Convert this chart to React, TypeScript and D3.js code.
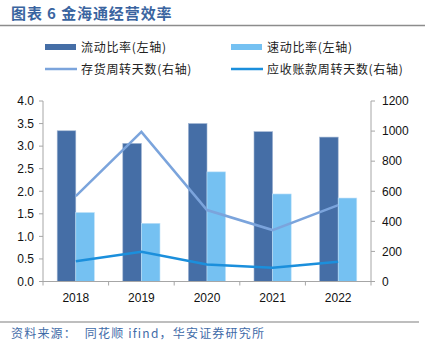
import React, { useEffect, useRef } from "react";
import * as d3 from "d3";

const years = ["2018", "2019", "2020", "2021", "2022"];
const currentRatio = [3.34, 3.06, 3.5, 3.32, 3.2];
const quickRatio = [1.53, 1.29, 2.43, 1.94, 1.85];
const inventoryDays = [568, 995, 475, 342, 508];
const receivableDays = [134, 198, 113, 92, 131];
const leftTicks = [0, 0.5, 1, 1.5, 2, 2.5, 3, 3.5, 4];
const rightTicks = [0, 200, 400, 600, 800, 1000, 1200];

const DARK = "#456ea6";
const LIGHT = "#75c1f2";
const INV = "#7ba4dc";
const REC = "#1b8fdc";
const CJK = "'Noto Sans CJK SC', sans-serif";
const NUM = "'Liberation Sans', Arial, sans-serif";

export default function App() {
  const ref = useRef<SVGSVGElement>(null);

  useEffect(() => {
    const svg = d3.select(ref.current);
    svg.selectAll("*").remove();

    const left = 43, right = 371, top = 101, bottom = 281.5;

    const x = d3.scaleBand().domain(years).range([left, right]);
    const yL = d3.scaleLinear().domain([0, 4]).range([bottom, top]);
    const yR = d3.scaleLinear().domain([0, 1200]).range([bottom, top]);

    // title
    svg.append("text")
      .attr("x", 11).attr("y", 19)
      .attr("font-family", CJK).attr("font-size", 15).attr("font-weight", "bold")
      .attr("letter-spacing", 0.9)
      .attr("fill", "#3a64a0")
      .text("图表 6 金海通经营效率");
    svg.append("line")
      .attr("x1", 0).attr("x2", 425).attr("y1", 25.5).attr("y2", 25.5)
      .attr("stroke", "#8c8c8c").attr("stroke-width", 1.5);

    // legend
    const leg = svg.append("g").attr("font-family", CJK).attr("font-size", 12)
      .attr("letter-spacing", 0.7).attr("fill", "#222");
    const items = [
      { label: "流动比率(左轴)", color: DARK, bar: true, x: 45, y: 47 },
      { label: "速动比率(左轴)", color: LIGHT, bar: true, x: 231, y: 47 },
      { label: "存货周转天数(右轴)", color: INV, bar: false, x: 45, y: 69 },
      { label: "应收账款周转天数(右轴)", color: REC, bar: false, x: 231, y: 69 },
    ];
    items.forEach(it => {
      if (it.bar) {
        leg.append("rect").attr("x", it.x).attr("y", it.y - 3).attr("width", 31).attr("height", 6).attr("fill", it.color);
      } else {
        leg.append("line").attr("x1", it.x).attr("x2", it.x + 32).attr("y1", it.y).attr("y2", it.y)
          .attr("stroke", it.color).attr("stroke-width", 2.5);
      }
      leg.append("text").attr("x", it.x + 36).attr("y", it.y + 4.5).text(it.label);
    });

    // bars
    const bw = 18.6;
    const g = svg.append("g");
    years.forEach((yr, i) => {
      const cx = x(yr)! + x.bandwidth() / 2;
      g.append("rect")
        .attr("x", cx - bw).attr("y", yL(currentRatio[i]))
        .attr("width", bw).attr("height", bottom - yL(currentRatio[i]))
        .attr("fill", DARK).attr("stroke", "#9fb4d2").attr("stroke-width", 0.6);
      g.append("rect")
        .attr("x", cx).attr("y", yL(quickRatio[i]))
        .attr("width", bw).attr("height", bottom - yL(quickRatio[i]))
        .attr("fill", LIGHT).attr("stroke", "#c2e3f9").attr("stroke-width", 0.6);
    });

    // axes
    const axisColor = "#a6a6a6";
    const ax = svg.append("g").attr("stroke", axisColor).attr("stroke-width", 1);
    ax.append("line").attr("x1", left).attr("x2", left).attr("y1", top).attr("y2", bottom);
    ax.append("line").attr("x1", right).attr("x2", right).attr("y1", top).attr("y2", bottom);
    ax.append("line").attr("x1", left - 4).attr("x2", right + 4).attr("y1", bottom).attr("y2", bottom);
    leftTicks.forEach(t => {
      ax.append("line").attr("x1", left - 4).attr("x2", left).attr("y1", yL(t)).attr("y2", yL(t));
    });
    rightTicks.forEach(t => {
      ax.append("line").attr("x1", right).attr("x2", right + 4).attr("y1", yR(t)).attr("y2", yR(t));
    });
    years.forEach(yr => {
      const bx = x(yr)!;
      ax.append("line").attr("x1", bx).attr("x2", bx).attr("y1", bottom).attr("y2", bottom + 4);
    });
    ax.append("line").attr("x1", right).attr("x2", right).attr("y1", bottom).attr("y2", bottom + 4);

    const lab = svg.append("g").attr("font-family", NUM).attr("font-size", 12).attr("fill", "#111");
    leftTicks.forEach(t => {
      lab.append("text").attr("x", 34).attr("y", yL(t) + 4.3).attr("text-anchor", "end").text(d3.format(".1f")(t));
    });
    rightTicks.forEach(t => {
      lab.append("text").attr("x", 382).attr("y", yR(t) + 4.3).text(String(t));
    });
    years.forEach(yr => {
      lab.append("text").attr("x", x(yr)! + x.bandwidth() / 2).attr("y", 302).attr("text-anchor", "middle").text(yr);
    });

    // lines
    const line = d3.line<number>()
      .x((_, i) => x(years[i])! + x.bandwidth() / 2)
      .y(d => yR(d));
    svg.append("path").datum(inventoryDays).attr("d", line)
      .attr("fill", "none").attr("stroke", INV).attr("stroke-width", 2.5);
    svg.append("path").datum(receivableDays).attr("d", line)
      .attr("fill", "none").attr("stroke", REC).attr("stroke-width", 2.5);

    // source
    svg.append("line")
      .attr("x1", 0).attr("x2", 419).attr("y1", 322).attr("y2", 322)
      .attr("stroke", "#7f7f7f").attr("stroke-width", 1.2);
    svg.append("text")
      .attr("x", 11).attr("y", 338)
      .attr("font-family", CJK).attr("font-size", 12).attr("fill", "#3f6ba8")
      .attr("letter-spacing", 1.2)
      .attr("xml:space", "preserve")
      .text("资料来源：  同花顺 ifind，华安证券研究所");
  }, []);

  return (
    <div style={{ position: "absolute", left: 0, top: 0 }}>
      <svg ref={ref} width={425} height={354} style={{ display: "block", background: "#fff" }} />
    </div>
  );
}
